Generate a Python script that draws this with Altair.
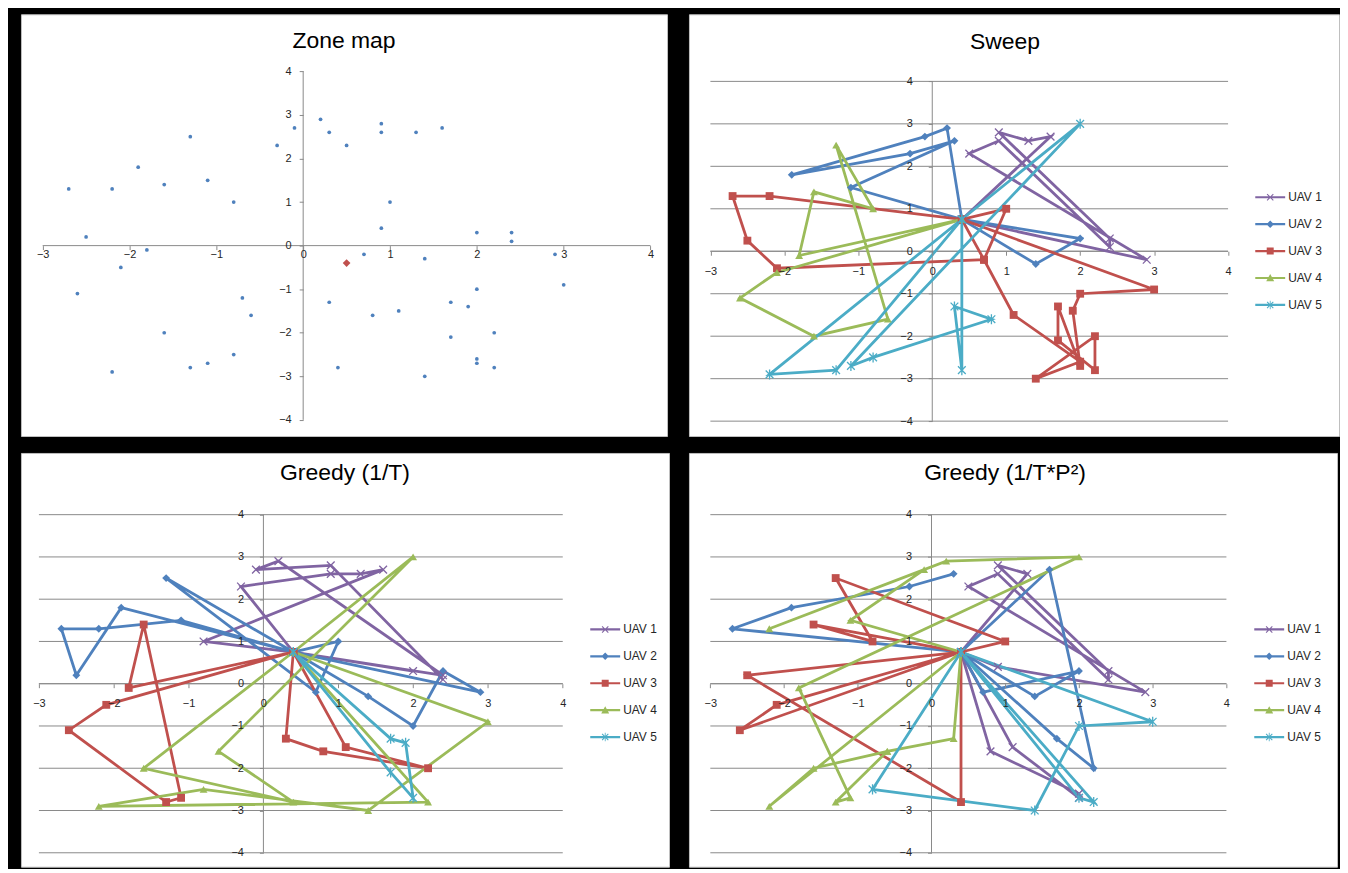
import altair as alt
import pandas as pd

# ---------------- data ----------------
SERIES = ["UAV 1", "UAV 2", "UAV 3", "UAV 4", "UAV 5"]
COLORS = ["#8064A2", "#4F81BD", "#C0504D", "#9BBB59", "#4BACC6"]
X_TICKS = [-3, -2, -1, 0, 1, 2, 3, 4]
Y_TICKS = [-4, -3, -2, -1, 0, 1, 2, 3, 4]
TITLES = ["Zone map", "Sweep", "Greedy (1/T)", "Greedy (1/T*P²)"]

HUB = (0.4, 0.75)
DEPOT_X = [0.5]
DEPOT_Y = [-0.4]

ZONE_X = [-2.7, -2.2, -2.5, -1.9, -1.6, -1.3, -1.1, -0.8, -0.3, -0.1, 0.2, 0.3, 0.5,
          -1.8, -2.1, -2.6, -0.7, -0.6, -1.6, -0.8, -1.1, -1.3, -2.2, 0.3, 0.4,
          0.9, 0.9, 1.3, 1.6, 1.0, 0.9, 2.0, 2.4, 2.4, 0.7, 1.4, 2.9, 3.0, 2.0,
          1.7, 1.9, 0.8, 1.1, 1.7, 2.2, 2.0, 2.0, 2.2, 1.4]
ZONE_Y = [1.3, 1.3, 0.2, 1.8, 1.4, 2.5, 1.5, 1.0, 2.3, 2.7, 2.9, 2.6, 2.3,
          -0.1, -0.5, -1.1, -1.2, -1.6, -2.0, -2.5, -2.7, -2.8, -2.9, -1.3, -2.8,
          2.8, 2.6, 2.6, 2.7, 1.0, 0.4, 0.3, 0.3, 0.1, -0.2, -0.3, -0.2, -0.9, -1.0,
          -1.3, -1.4, -1.6, -1.5, -2.1, -2.0, -2.6, -2.7, -2.8, -3.0]

H = HUB
# Sweep routes
SWEEP_UAV1 = [H, (1.6, 2.7), (1.3, 2.6), (0.9, 2.8), (2.4, 0.3), (2.4, 0.1), (0.9, 2.6),
              (0.5, 2.3), (2.9, -0.2), H]
SWEEP_UAV2 = [H, (1.4, -0.3), (2.0, 0.3), H, (0.2, 2.9), (-0.1, 2.7), (-1.9, 1.8),
              (-0.3, 2.3), (0.3, 2.6), (-1.1, 1.5), H]
SWEEP_UAV3 = [H, (-2.2, 1.3), (-2.7, 1.3), (-2.5, 0.25), (-2.1, -0.4), (0.7, -0.2), (1.0, 1.0),
              H, (0.7, -0.2), (1.1, -1.5), (2.0, -2.6), (1.4, -3.0), (2.2, -2.0), (2.2, -2.8),
              (1.7, -2.1), (1.7, -1.3), (2.0, -2.7), (1.9, -1.4), (2.0, -1.0), (3.0, -0.9), H]
SWEEP_UAV4 = [H, (-1.8, -0.1), (-1.6, 1.4), (-0.8, 1.0), (-1.3, 2.5), (-0.6, -1.6),
              (-1.6, -2.0), (-2.6, -1.1), (-2.1, -0.5), H]
SWEEP_UAV5 = [H, (0.4, -2.8), (0.3, -1.3), (0.8, -1.6), (-0.8, -2.5), (-1.1, -2.7),
              (2.0, 3.0), (-2.2, -2.9), (-1.3, -2.8), H]

# Greedy (1/T) routes
G1_UAV1 = [(2.0, 0.3), H, (-0.8, 1.0), (1.6, 2.7), (1.3, 2.6), (0.9, 2.6), (-0.3, 2.3), H,
           (2.4, 0.2), (0.2, 2.9), (-0.1, 2.7), (0.9, 2.8), (2.4, 0.1)]
G1_UAV2 = [H, (-1.1, 1.5), (-2.2, 1.3), (-2.7, 1.3), (-2.5, 0.2), (-1.9, 1.8), H, (-1.3, 2.5),
           (0.7, -0.2), (1.0, 1.0), H, (1.4, -0.3), (2.0, -1.0), (2.4, 0.3), (2.9, -0.2), H]
G1_UAV3 = [H, (-1.8, -0.1), (-1.6, 1.4), (-1.1, -2.7), (-1.3, -2.8), (-2.6, -1.1), (-2.1, -0.5),
           H, (0.3, -1.3), (0.8, -1.6), (2.2, -2.0), (1.1, -1.5), H]
G1_UAV4 = [H, (2.0, 3.0), (-0.6, -1.6), (0.4, -2.8), (-1.6, -2.0), H, (3.0, -0.9), (1.4, -3.0),
           (-0.8, -2.5), (-2.2, -2.9), (2.2, -2.8), H]
G1_UAV5 = [H, (1.7, -1.3), (1.9, -1.4), (2.0, -2.7), (1.7, -2.1), H]

# Greedy (1/T*P^2) routes
G2_UAV1 = [H, (1.3, 2.6), (0.9, 2.8), (2.4, 0.3), (2.4, 0.1), (0.9, 2.6), (0.5, 2.3), (2.9, -0.2),
           (0.9, 0.4), H, (0.8, -1.6), (2.0, -2.6), (2.0, -2.7), (1.1, -1.5), H]
G2_UAV2 = [(0.3, 2.6), (-0.3, 2.3), (-1.9, 1.8), (-2.7, 1.3), H, (1.6, 2.7), (2.2, -2.0),
           (1.7, -1.3), H, (0.7, -0.2), (2.0, 0.3), (1.4, -0.3), H]
G2_UAV3 = [H, (1.0, 1.0), (-1.3, 2.5), (-0.8, 1.0), (-1.6, 1.4), H, (-2.5, 0.2), (0.4, -2.8), H,
           (-2.1, -0.5), (-2.6, -1.1), H]
G2_UAV4 = [H, (-1.1, 1.5), (-0.1, 2.7), (-2.2, 1.3), (0.2, 2.9), (2.0, 3.0), (-1.8, -0.1),
           (-1.1, -2.7), (-1.3, -2.8), (-0.6, -1.6), (0.3, -1.3), H, (-2.2, -2.9), (-1.6, -2.0),
           (-0.6, -1.6)]
G2_UAV5 = [H, (2.0, -2.7), (2.2, -2.8), H, (3.0, -0.9), (2.0, -1.0), (1.4, -3.0), (-0.8, -2.5), H]

# ---------------- style ----------------
FONT = "Liberation Sans"
AX_COLOR = "#8A8A8A"
LABEL_COLOR = "#262626"
X_PATH = "M-1,-1L1,1M-1,1L1,-1"
STAR_PATH = "M-1,-1L1,1M-1,1L1,-1M0,-1.3L0,1.3"
BAR = "M-3,-0.22L3,-0.22L3,0.22L-3,0.22Z"
LEG_X = ("M-0.7,-0.55L-0.55,-0.7L0.7,0.55L0.55,0.7Z"
         "M-0.7,0.55L0.55,-0.7L0.7,-0.55L-0.55,0.7Z")
LEG_PATHS = [
    BAR + LEG_X,
    BAR + "M0,-0.75L0.75,0L0,0.75L-0.75,0Z",
    BAR + "M-0.7,-0.7L0.7,-0.7L0.7,0.7L-0.7,0.7Z",
    BAR + "M0,-0.8L0.8,0.65L-0.8,0.65Z",
    BAR + LEG_X + "M-0.08,-0.85L0.08,-0.85L0.08,0.85L-0.08,0.85Z",
]


def routes_df(routes):
    rows = []
    for name, pts in zip(SERIES, routes):
        for i, (x, y) in enumerate(pts):
            rows.append({"series": name, "order": i, "x": x, "y": y})
    return pd.DataFrame(rows)


def encodings(w, h, xdom, ydom, xpad, ypad):
    x0 = w * (0 - xdom[0]) / (xdom[1] - xdom[0])
    y0 = h * (0 - ydom[0]) / (ydom[1] - ydom[0])
    common = dict(domain=False, grid=False, tickSize=4, tickColor=AX_COLOR, tickWidth=1,
                  labelColor=LABEL_COLOR, labelFont=FONT, labelFontSize=11, title=None,
                  labelOverlap=False, labelFlush=False, format="d", zindex=1)
    xaxis = alt.Axis(values=X_TICKS, offset=-y0, labelPadding=xpad, **common)
    yaxis = alt.Axis(values=Y_TICKS, offset=-x0, labelPadding=ypad, **common)
    X = alt.X("x:Q", scale=alt.Scale(domain=list(xdom), nice=False, zero=False), axis=xaxis)
    Y = alt.Y("y:Q", scale=alt.Scale(domain=list(ydom), nice=False, zero=False), axis=yaxis)
    return X, Y


def frame_layers(X, Y, grid):
    layers = []
    if grid:
        gdf = pd.DataFrame({"y": Y_TICKS, "x": X_TICKS[0], "x2": X_TICKS[-1]})
        layers.append(alt.Chart(gdf).mark_rule(color=AX_COLOR, strokeWidth=1).encode(
            x=X, x2="x2:Q", y=Y))
    adf = pd.DataFrame({"x": [X_TICKS[0], 0], "x2": [X_TICKS[-1], 0],
                        "y": [0, Y_TICKS[0]], "y2": [0, Y_TICKS[-1]]})
    layers.append(alt.Chart(adf).mark_rule(color=AX_COLOR, strokeWidth=1).encode(
        x=X, x2="x2:Q", y=Y, y2="y2:Q"))
    return layers


def title_layer(text, cx, cy):
    return alt.Chart(pd.DataFrame({"t": [text]})).mark_text(
        font=FONT, fontSize=23, color="black", align="center", baseline="middle"
    ).encode(text="t:N", x=alt.value(cx), y=alt.value(cy))


def route_panel(name, routes, w, h, xdom, ydom, legx, legy, tcx, tcy):
    X, Y = encodings(w, h, xdom, ydom, 10, 16)
    df = routes_df(routes)
    cscale = alt.Scale(domain=SERIES, range=COLORS)
    lines = alt.Chart(df).mark_line(strokeWidth=2.8).encode(
        x=X, y=Y, order="order:Q",
        color=alt.Color("series:N", scale=cscale, legend=None))
    filled = alt.Chart(df).transform_filter(
        alt.FieldOneOfPredicate(field="series", oneOf=SERIES[1:4])
    ).mark_point(filled=True, size=62, opacity=1).encode(
        x=X, y=Y,
        color=alt.Color("series:N", scale=cscale, legend=None),
        shape=alt.Shape("series:N", scale=alt.Scale(domain=SERIES[1:4],
                                                    range=["diamond", "square", "triangle-up"]),
                        legend=None))
    stroked = alt.Chart(df).transform_filter(
        alt.FieldOneOfPredicate(field="series", oneOf=[SERIES[0], SERIES[4]])
    ).mark_point(filled=False, size=60, strokeWidth=1.3, opacity=1).encode(
        x=X, y=Y,
        color=alt.Color("series:N", scale=cscale, legend=None),
        shape=alt.Shape("series:N", scale=alt.Scale(domain=[SERIES[0], SERIES[4]],
                                                    range=[X_PATH, STAR_PATH]),
                        legend=None))
    leg = alt.Legend(orient="none", legendX=legx, legendY=legy, title=None, padding=0,
                     symbolSize=100, symbolStrokeWidth=0, labelFont=FONT, labelFontSize=12,
                     labelColor="#262626", labelOffset=12, rowPadding=15)
    legend_layer = alt.Chart(pd.DataFrame({"series": SERIES})).mark_point(
        filled=True, opacity=1, clip=True).encode(
        x=alt.value(-60), y=alt.value(-60),
        color=alt.Color("series:N", scale=cscale, legend=leg),
        shape=alt.Shape("series:N", scale=alt.Scale(domain=SERIES, range=LEG_PATHS), legend=leg))
    layers = frame_layers(X, Y, True) + [lines, filled, stroked, legend_layer,
                                         title_layer(name, tcx, tcy)]
    return alt.layer(*layers).resolve_scale(color="independent", shape="independent").properties(
        width=w, height=h)


def zone_panel(w, h, xdom, ydom, tcx, tcy):
    X, Y = encodings(w, h, xdom, ydom, -1, 8)
    zdf = pd.DataFrame({"x": ZONE_X, "y": ZONE_Y})
    ddf = pd.DataFrame({"x": DEPOT_X, "y": DEPOT_Y})
    pts = alt.Chart(zdf).mark_point(filled=True, shape="circle", size=14, color="#4F81BD",
                                    opacity=1).encode(x=X, y=Y)
    dep = alt.Chart(ddf).mark_point(filled=True, shape="diamond", size=60, color="#C0504D",
                                    opacity=1).encode(x=X, y=Y)
    layers = frame_layers(X, Y, False) + [pts, dep, title_layer(TITLES[0], tcx, tcy)]
    return alt.layer(*layers).properties(width=w, height=h)


p1 = zone_panel(648, 423, (-3.25, 4.19), (-4.37, 5.31), 324, 27)
p2 = route_panel(TITLES[1], [SWEEP_UAV1, SWEEP_UAV2, SWEEP_UAV3, SWEEP_UAV4, SWEEP_UAV5],
                 652, 423, (-3.29, 5.50), (-4.35, 5.58), 577, 177.5, 317, 28)
p3 = route_panel(TITLES[2], [G1_UAV1, G1_UAV2, G1_UAV3, G1_UAV4, G1_UAV5],
                 650, 415, (-3.24, 5.42), (-4.33, 5.46), 580, 171, 325, 20)
p4 = route_panel(TITLES[3], [G2_UAV1, G2_UAV2, G2_UAV3, G2_UAV4, G2_UAV5],
                 650, 415, (-3.29, 5.50), (-4.33, 5.46), 576, 171, 317, 20)

RES = dict(x="independent", y="independent", color="independent", shape="independent")
row1 = alt.hconcat(p1, p2, spacing=20).resolve_scale(**RES).resolve_legend(
    color="independent", shape="independent")
row2 = alt.hconcat(p3, p4, spacing=18).resolve_scale(**RES).resolve_legend(
    color="independent", shape="independent")
chart = alt.vconcat(row1, row2, spacing=15).resolve_scale(**RES).resolve_legend(
    color="independent", shape="independent").properties(
    background="black", padding={"left": 12, "top": 4, "right": 0, "bottom": 0}
).configure_view(fill="white", stroke="#BFBFBF", strokeWidth=1)

chart.save("out.html", embed_options={"renderer": "svg", "actions": False})
